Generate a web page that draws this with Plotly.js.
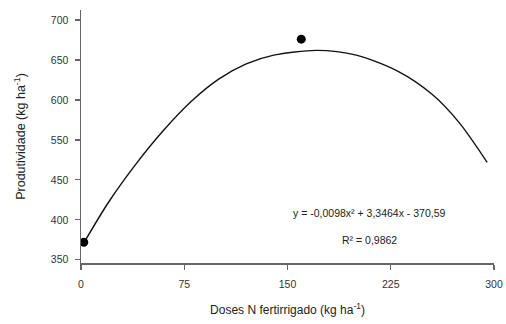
<!DOCTYPE html>
<html>
<head>
<meta charset="utf-8">
<script src="https://cdn.plot.ly/plotly-3.0.1.min.js"></script>
<style>html,body{margin:0;padding:0;background:#fff;}#chart{width:506px;height:324px;}</style>
</head>
<body>
<div id="chart"></div>
<script>
// Observed points (N doses, yield)
const obsX = [2, 160];
const obsY = [422, 676];
// Fitted curve
const fitX = [2, 20, 40, 60, 80, 100, 120, 140, 171, 200, 230, 255, 275, 295];
const fitY = [421, 472, 520, 562, 598, 626, 645, 656, 662, 656, 636, 607, 571, 522];
// Axis ticks as printed
const xTicks = [0, 75, 150, 225, 300];
const yTickVals = [400, 450, 500, 550, 600, 650, 700];
const yTickText = ['350', '400', '450', '550', '600', '650', '700'];
const eqText = 'y = -0,0098x² + 3,3464x - 370,59';
const r2Text = 'R² = 0,9862';

const FONT = 'Liberation Sans, Arial, sans-serif';
const traces = [
  {x: fitX, y: fitY, mode: 'lines', line: {color: '#111', width: 1.4, shape: 'spline', smoothing: 0.8}, hoverinfo: 'skip'},
  {x: obsX, y: obsY, mode: 'markers', marker: {color: '#000', size: 9}}
];
const axFont = {family: FONT, size: 10.5, color: '#333'};
const layout = {
  width: 506, height: 324,
  margin: {l: 81, r: 12, t: 10, b: 61},
  showlegend: false,
  paper_bgcolor: '#fff', plot_bgcolor: '#fff',
  xaxis: {
    range: [0, 300], tickvals: xTicks, ticktext: xTicks.map(String),
    showgrid: false, zeroline: false, showline: true, linecolor: '#666', linewidth: 1.5,
    ticks: 'outside', ticklen: 5, tickcolor: '#666', tickwidth: 1.2,
    tickfont: axFont, ticklabelstandoff: 6,
    title: {text: 'Doses N fertirrigado (kg ha<sup>-1</sup>)', font: {family: FONT, size: 12, color: '#222'}, standoff: 16}
  },
  yaxis: {
    range: [396, 712.5], tickvals: yTickVals, ticktext: yTickText,
    showgrid: false, zeroline: false, showline: true, linecolor: '#666', linewidth: 1.5,
    ticks: 'outside', ticklen: 5, tickcolor: '#666', tickwidth: 1.2,
    tickfont: axFont, ticklabelstandoff: 4,
    title: {text: 'Produtividade (kg ha<sup>-1</sup>)', font: {family: FONT, size: 12.5, color: '#222'}, standoff: 22}
  },
  annotations: [
    {px: 369, py: 213, text: eqText},
    {px: 369, py: 240, text: r2Text}
  ].map(a => ({
    xref: 'paper', yref: 'paper', xanchor: 'center', yanchor: 'middle',
    x: (a.px - 81) / (506 - 81 - 12),
    y: 1 - (a.py - 10) / (324 - 10 - 61),
    text: a.text, showarrow: false,
    font: {family: FONT, size: 10.5, color: '#222'}
  }))
};
Plotly.newPlot('chart', traces, layout, {staticPlot: true, displayModeBar: false});
</script>
</body>
</html>
